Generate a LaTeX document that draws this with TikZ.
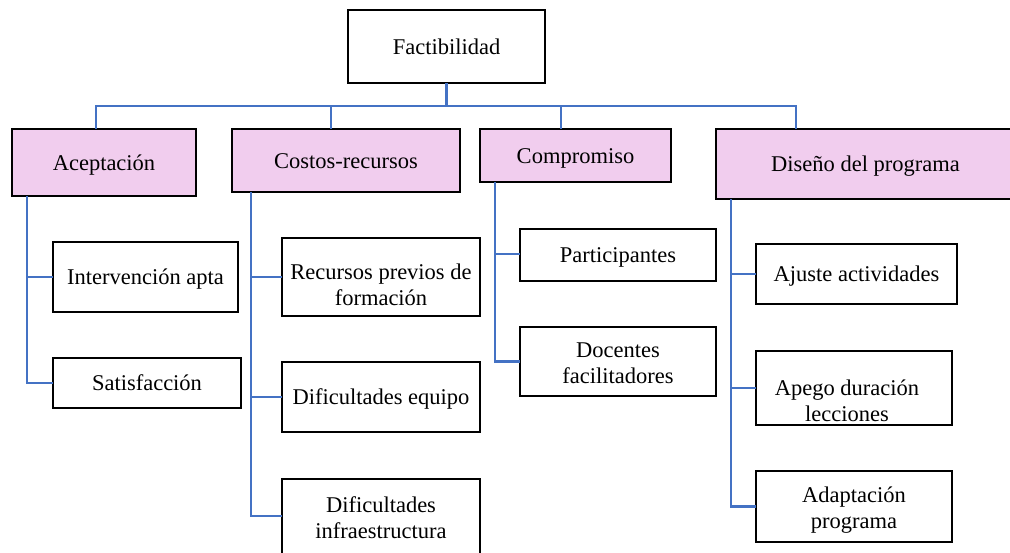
\documentclass[tikz,border=0pt]{standalone}
\usepackage{fontspec}
\setmainfont{Liberation Serif}
\usetikzlibrary{calc}
\definecolor{conncol}{HTML}{4472C4}
\definecolor{pinkfill}{HTML}{F1CDEE}
\begin{document}
\begin{tikzpicture}[x=1pt,y=-1pt,
  every node/.style={font=\fontsize{22.5}{26}\selectfont, inner sep=0pt},
  box/.style={draw=black, line width=2.4pt, fill=white, align=center},
  one/.style={text height=15pt, text depth=0pt},
  cat/.style={box, fill=pinkfill},
  txt/.style={align=center},
  conn/.style={draw=conncol, line width=2.2pt, line cap=rect}]
\clip (0,0) rectangle (1010,552);
\fill[white] (0,0) rectangle (1010,552);
% connectors first (boxes drawn over them)
\coordinate (bar) at (446.5,106);
% root
\node[box,one,minimum width=197pt,minimum height=73pt] (fact) at (446.5,46.5) {Factibilidad};
% categories
\node[cat,one,minimum width=184pt,minimum height=67pt] (acep) at (104,162.5) {Aceptación};
\node[cat,one,minimum width=228pt,minimum height=63pt] (cost) at (346,160.5) {Costos-recursos};
\node[cat,one,minimum width=191pt,minimum height=53pt] (comp) at (575.5,155.5) {Compromiso};
\node[cat,one,minimum width=299pt,minimum height=70pt] (dise) at (865.5,164) {Diseño del programa};
% Aceptación children
\node[box,one,minimum width=185pt,minimum height=70pt] (inter) at (145.5,277) {Intervención apta};
\node[box,one,minimum width=188pt,minimum height=50pt] (satis) at (147,383) {Satisfacción};
% Costos children
\node[box,minimum width=198pt,minimum height=78pt] (recur) at (381,277) {};
\node[txt] at ([yshift=-8pt]recur.center) {Recursos previos de\\formación};
\node[box,one,minimum width=198pt,minimum height=70pt] (equip) at (381,397) {Dificultades equipo};
\node[box,minimum width=198pt,minimum height=82pt] (infra) at (381,520) {};
\node[txt,anchor=base] at (381,538) {Dificultades\\infraestructura};
% Compromiso children
\node[box,one,minimum width=196pt,minimum height=52pt] (parti) at (618,255) {Participantes};
\node[box,minimum width=196pt,minimum height=69pt] (docen) at (618,361.5) {};
\node[txt] at ([yshift=-2pt]docen.center) {Docentes\\facilitadores};
% Diseño children
\node[box,one,minimum width=201pt,minimum height=60pt] (ajust) at (856.5,274) {Ajuste actividades};
\node[box,minimum width=196pt,minimum height=74pt] (apego) at (854,388) {};
\node[txt] at ([xshift=-7pt,yshift=-13pt]apego.center) {Apego duración\\lecciones};
\node[box,minimum width=196pt,minimum height=71pt] (adapt) at (854,506.5) {};
\node[txt] at ([yshift=-4pt]adapt.center) {Adaptación\\programa};
% top connectors
\draw[conn] (fact.south) -- (bar);
\draw[conn] (bar) -| ([xshift=-8pt]acep.north);
\draw[conn] (bar) -| ([xshift=-15pt]cost.north);
\draw[conn] (bar) -| ([xshift=-14.5pt]comp.north);
\draw[conn] (bar) -| ([xshift=-69.5pt]dise.north);
% side connectors
\draw[conn] ([xshift=16pt]acep.south west) |- (inter.west);
\draw[conn] ([xshift=16pt]acep.south west) |- (satis.west);
\draw[conn] ([xshift=20pt]cost.south west) |- (recur.west);
\draw[conn] ([xshift=20pt]cost.south west) |- (equip.west);
\draw[conn] ([xshift=20pt]cost.south west) |- ([yshift=4pt]infra.west);
\draw[conn] ([xshift=16pt]comp.south west) |- ([yshift=1pt]parti.west);
\draw[conn] ([xshift=16pt]comp.south west) |- (docen.west);
\draw[conn] ([xshift=16pt]dise.south west) |- (ajust.west);
\draw[conn] ([xshift=16pt]dise.south west) |- (apego.west);
\draw[conn] ([xshift=16pt]dise.south west) |- (adapt.west);
\end{tikzpicture}
\end{document}
